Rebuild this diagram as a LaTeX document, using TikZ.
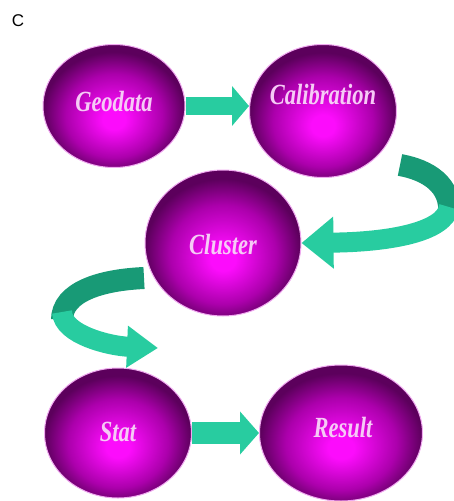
\documentclass[tikz,border=0pt]{standalone}
\usepackage{fontspec}
\setmainfont{Liberation Serif}
\newfontfamily\panelfont{Liberation Sans}
\usetikzlibrary{shapes.geometric,arrows.meta,backgrounds}
\definecolor{orbhi}{RGB}{252,12,252}
\definecolor{orbmid}{RGB}{172,0,172}
\definecolor{orblo}{RGB}{92,0,92}
\definecolor{orbglow}{RGB}{240,170,240}
\definecolor{orbtext}{RGB}{246,202,246}
\definecolor{tealfront}{RGB}{40,204,160}
\definecolor{tealback}{RGB}{24,154,118}
\pgfdeclareradialshading{orbshade}{\pgfpoint{0bp}{-6bp}}{color(0bp)=(orbhi); color(4bp)=(orbhi); color(17bp)=(orbmid); color(25bp)=(orblo); color(50bp)=(orblo)}
\newcommand\tall[1]{\scalebox{1}[1.3]{#1}}
\tikzset{
  orb/.style={ellipse, inner sep=0pt, shading=orbshade, draw=orbglow, line width=1pt},
  orblabel/.style={font=\fontsize{22.5}{27}\selectfont\bfseries\itshape, text=orbtext, inner sep=0pt},
  flat/.style={draw=tealfront},
  ribbonback/.style={draw=tealback, line width=22pt},
  ribbonfront/.style={draw=tealfront, line width=20pt}
}

\begin{document}
\begin{tikzpicture}[x=1pt,y=-1pt]
\useasboundingbox (0,0) rectangle (453,501);
\node[font=\panelfont\fontsize{17}{19}\selectfont, inner sep=0pt] (panel) at (18,21) {C};
\node[orb, minimum width=142pt, minimum height=123pt] (geo) at (114,106) {};
\node[orb, minimum width=147pt, minimum height=133pt] (calib) at (323,111) {};
\node[orb, minimum width=156pt, minimum height=146pt] (clu) at (223,243) {};
\node[orb, minimum width=147pt, minimum height=130pt] (stat) at (118,433) {};
\node[orb, minimum width=163pt, minimum height=136pt] (result) at (341,433) {};
\node[orblabel] (geoT) at ([yshift=5pt]geo.center) {\tall{Geodata}};
\node[orblabel] (calibT) at ([yshift=16pt]calib.center) {\tall{Calibration}};
\node[orblabel] (cluT) at ([yshift=-2pt]clu.center) {\tall{Cluster}};
\node[orblabel] (statT) at ([yshift=1pt]stat.center) {\tall{Stat}};
\node[orblabel] (resultT) at ([xshift=2pt,yshift=5pt]result.center) {\tall{Result}};
\coordinate (startR) at (400,165);
\coordinate (bendR) at (449,207);
\coordinate (startL) at (144,278);
\coordinate (bendL) at (62,312);
\coordinate (endL) at (158,348);
\begin{scope}[on background layer]
\draw[flat, line width=18pt, -{Triangle[width=39pt,length=17pt]}] (geo.east) -- (geo.east -| calib.west);
\draw[flat, line width=22pt, -{Triangle[width=42pt,length=19pt]}] (stat.east) -- (result.west);
\draw[ribbonback] (startR) .. controls (428,170) and (452,185) .. ([yshift=-8pt]bendR);
\draw[ribbonfront, -{Triangle[width=50pt,length=32pt]}] (bendR) .. controls (445,232) and (390,242) .. (clu.east);
\draw[ribbonback] (startL) .. controls (100,280) and (62,292) .. ([yshift=-8pt]bendL);
\draw[ribbonfront, -{Triangle[width=40pt,length=31pt]}] (bendL) .. controls (63,335) and (110,346) .. (endL);
\end{scope}
\end{tikzpicture}
\end{document}
